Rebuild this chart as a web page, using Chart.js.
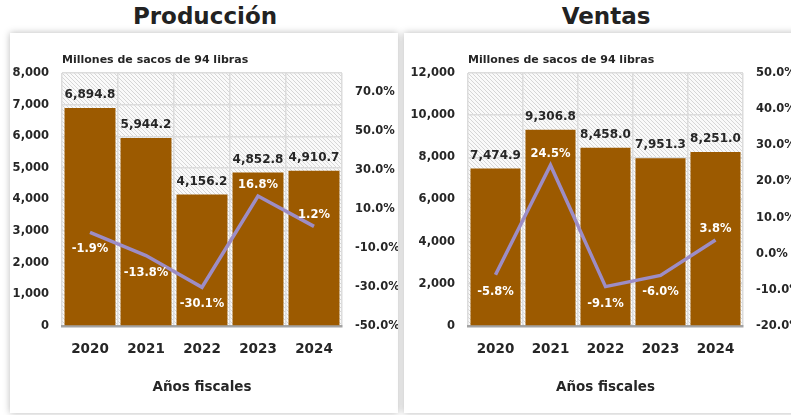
<!DOCTYPE html>
<html>
<head>
<meta charset="utf-8">
<script src="https://cdn.jsdelivr.net/npm/chart.js@4/dist/chart.umd.min.js"></script>
<style>
  html, body { margin: 0; padding: 0; background: #fff; }
  body { width: 791px; height: 415px; overflow: hidden; position: relative; font-family: "DejaVu Sans", sans-serif; }
  .title { position: absolute; top: 0; height: 32px; line-height: 32px; text-align: center; font-weight: bold; font-size: 23px; color: #222; }
  .card { position: absolute; top: 33px; height: 380px; background: #fff; box-shadow: 0 0 7px rgba(0,0,0,0.28); }
  canvas { position: absolute; left: 0; top: 0; }
</style>
</head>
<body>
<div class="title" style="left:10px;width:390px;">Producción</div>
<div class="title" style="left:404px;width:404px;">Ventas</div>
<div class="card" style="left:10px;width:388px;"><canvas id="prod" width="388" height="380"></canvas></div>
<div class="card" style="left:404px;width:400px;"><canvas id="ventas" width="400" height="380"></canvas></div>
<script>
// data
const years = ['2020', '2021', '2022', '2023', '2024'];
const produccion = [6894.8, 5944.2, 4156.2, 4852.8, 4910.7];
const produccionVar = [-1.9, -13.8, -30.1, 16.8, 1.2];
const ventas = [7474.9, 9306.8, 8458.0, 7951.3, 8251.0];
const ventasVar = [-5.8, 24.5, -9.1, -6.0, 3.8];
const prodPctTicks = [-50, -30, -10, 10, 30, 50, 70];
const ventasPctTicks = [-20, -10, 0, 10, 20, 30, 40, 50];
const subtitle = 'Millones de sacos de 94 libras';
const xTitle = 'Años fiscales';

const barColor = '#9C5A00';
const lineColor = '#9D8DC6';
const textColor = '#262626';
const gridColor = '#dcdcdc';

Chart.defaults.font.family = 'DejaVu Sans';
Chart.defaults.font.weight = 'bold';
Chart.defaults.color = textColor;

// diagonal hatch for the plot background
function makeHatch() {
  const s = 4;
  const c = document.createElement('canvas');
  c.width = s; c.height = s;
  const g = c.getContext('2d');
  g.fillStyle = '#fafafa';
  g.fillRect(0, 0, s, s);
  g.strokeStyle = '#d6d6d6';
  g.lineWidth = 1;
  g.beginPath();
  g.moveTo(-1, -1); g.lineTo(s + 1, s + 1);
  g.moveTo(-1, s - 1); g.lineTo(1, s + 1);
  g.moveTo(s - 1, -1); g.lineTo(s + 1, 1);
  g.stroke();
  return g.createPattern(c, 'repeat');
}

const hatchPlugin = {
  id: 'hatch',
  beforeDraw(chart) {
    const { ctx, chartArea: a } = chart;
    ctx.save();
    ctx.fillStyle = makeHatch();
    ctx.fillRect(a.left, a.top, a.right - a.left, a.bottom - a.top);
    ctx.restore();
  }
};

const labelPlugin = {
  id: 'labels',
  afterDatasetsDraw(chart) {
    const { ctx, chartArea: a } = chart;
    ctx.save();
    ctx.textBaseline = 'middle';
    // subtitle
    ctx.textAlign = 'left';
    ctx.fillStyle = textColor;
    ctx.font = 'bold 11px "DejaVu Sans"';
    ctx.fillText(subtitle, a.left, a.top - 13);
    ctx.textAlign = 'center';
    // bar values
    const barMeta = chart.getDatasetMeta(1);
    ctx.font = 'bold 12px "DejaVu Sans"';
    barMeta.data.forEach((el, i) => {
      const v = chart.data.datasets[1].data[i];
      ctx.fillText(v.toLocaleString('en-US', { minimumFractionDigits: 1, maximumFractionDigits: 1 }), el.x, el.y - 13);
    });
    // line values
    const lineMeta = chart.getDatasetMeta(0);
    ctx.fillStyle = '#fff';
    ctx.font = 'bold 11.5px "DejaVu Sans"';
    lineMeta.data.forEach((el, i) => {
      const v = chart.data.datasets[0].data[i];
      const dy = v < 0 ? 17 : -11;
      ctx.fillText(v.toFixed(1) + '%', el.x, el.y + dy);
    });
    ctx.restore();
  }
};

function makeChart(id, bars, pct, yMax, yStep, pctMin, pctMax, pctTicks, leftW, rightW) {
  return new Chart(document.getElementById(id), {
    type: 'bar',
    data: {
      labels: years,
      datasets: [
        {
          type: 'line',
          data: pct,
          yAxisID: 'y1',
          borderColor: lineColor,
          borderWidth: 3.5,
          pointRadius: 0,
          tension: 0,
          order: 0
        },
        {
          type: 'bar',
          data: bars,
          yAxisID: 'y',
          backgroundColor: barColor,
          barPercentage: 0.91,
          categoryPercentage: 1,
          order: 1
        }
      ]
    },
    options: {
      responsive: false,
      animation: false,
      layout: { padding: { top: 40, bottom: 0, left: 0, right: 0 } },
      plugins: { legend: { display: false }, tooltip: { enabled: false }, title: { display: false } },
      scales: {
        x: {
          afterFit(s) { s.height = 87; },
          grid: { color: gridColor, lineWidth: 1.5, drawTicks: false, offset: true },
          border: { color: '#a3a3a3', width: 2.5 },
          ticks: { font: { size: 13.5, weight: 'bold' }, padding: 15, color: textColor },
          title: { display: true, text: xTitle, font: { size: 13.5, weight: 'bold' }, padding: { top: 0, bottom: 17 }, color: textColor }
        },
        y: {
          position: 'left',
          min: 0,
          max: yMax,
          afterFit(s) { s.width = leftW; },
          grid: { color: gridColor, lineWidth: 1.5, drawTicks: false },
          border: { display: false },
          ticks: {
            stepSize: yStep,
            padding: 13,
            font: { size: 11.5, weight: 'bold' },
            color: textColor,
            callback: v => v.toLocaleString('en-US')
          }
        },
        y1: {
          position: 'right',
          min: pctMin,
          max: pctMax,
          afterFit(s) { s.width = rightW; },
          afterBuildTicks(s) { s.ticks = pctTicks.map(v => ({ value: v })); },
          grid: { display: false, drawTicks: false },
          border: { display: false },
          ticks: {
            padding: 13,
            font: { size: 11.5, weight: 'bold' },
            color: textColor,
            callback: v => v.toFixed(1) + '%'
          }
        }
      }
    },
    plugins: [hatchPlugin, labelPlugin]
  });
}

makeChart('prod', produccion, produccionVar, 8000, 1000, -50, 80, prodPctTicks, 52, 56);
makeChart('ventas', ventas, ventasVar, 12000, 2000, -20, 50, ventasPctTicks, 64, 61);
</script>
</body>
</html>
